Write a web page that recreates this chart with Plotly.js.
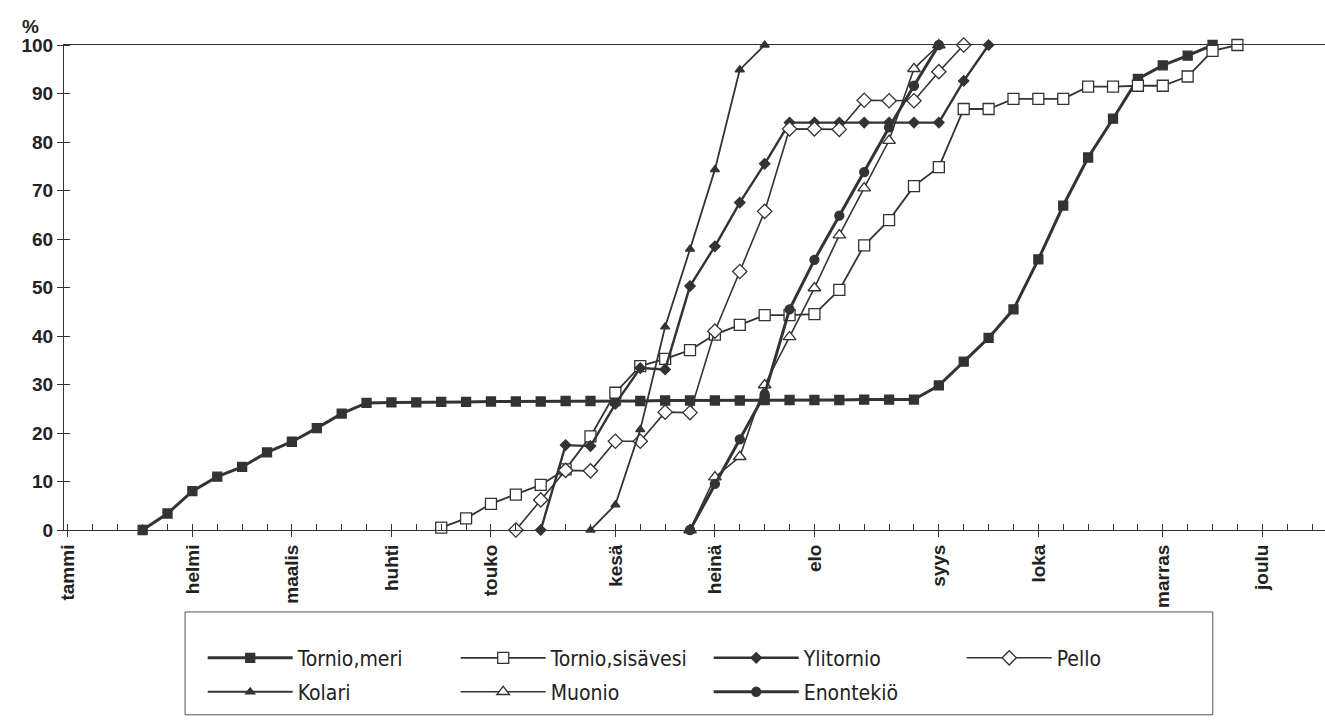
<!DOCTYPE html>
<html>
<head>
<meta charset="utf-8">
<script src="https://cdn.plot.ly/plotly-3.0.1.min.js"></script>
<style>
  html, body { margin: 0; padding: 0; background: #fff; }
  #chart { width: 1325px; height: 721px; }
</style>
</head>
<body>
<div id="chart"></div>
<script>
// ---- data ----
const weekTicks = [0,1,2,3,4,5,6,7,8,9,10,11,12,13,14,15,16,17,18,19,20,21,22,23,24,25,26,27,28,29,30,31,32,33,34,35,36,37,38,39,40,41,42,43,44,45,46,47,48,49,50];
const monthWeeks = [0, 5, 9, 13, 17, 22, 26, 30, 35, 39, 44, 48];
const monthNames = ["tammi", "helmi", "maalis", "huhti", "touko", "kesä", "heinä", "elo", "syys", "loka", "marras", "joulu"];
const yTicks = [0, 10, 20, 30, 40, 50, 60, 70, 80, 90, 100];

const tornioMeriWeeks = [3,4,5,6,7,8,9,10,11,12,13,14,15,16,17,18,19,20,21,22,23,24,25,26,27,28,29,30,31,32,33,34,35,36,37,38,39,40,41,42,43,44,45,46];
const tornioMeriVals  = [0,3.4,8,11,13,16,18.2,21,24,26.2,26.3,26.3,26.4,26.4,26.5,26.5,26.5,26.6,26.6,26.6,26.6,26.7,26.7,26.7,26.7,26.8,26.8,26.8,26.8,26.9,26.9,26.9,29.8,34.7,39.6,45.5,55.8,66.9,76.8,84.8,93,95.8,97.8,100];

const tornioSisWeeks = [15,16,17,18,19,20,21,22,23,24,25,26,27,28,29,30,31,32,33,34,35,36,37,38,39,40,41,42,43,44,45,46,47];
const tornioSisVals  = [0.5,2.4,5.4,7.3,9.3,12.5,19.3,28.3,33.8,35.3,37.1,40.3,42.3,44.3,44.3,44.5,49.5,58.7,63.9,70.9,74.8,86.8,86.8,88.9,88.9,88.9,91.4,91.4,91.6,91.6,93.5,98.8,100];

const ylitornioWeeks = [19,20,21,22,23,24,25,26,27,28,29,30,31,32,33,34,35,36,37];
const ylitornioVals  = [0,17.5,17.3,26,33.4,33.1,50.3,58.5,67.5,75.5,84,84,84,84,84,84,84,92.6,100];

const pelloWeeks = [18,19,20,21,22,23,24,25,26,27,28,29,30,31,32,33,34,35,36];
const pelloVals  = [0,6.2,12.3,12.2,18.3,18.3,24.3,24.2,41,53.3,65.7,82.7,82.7,82.6,88.6,88.5,88.5,94.5,100];

const kolariWeeks = [21,22,23,24,25,26,27,28];
const kolariVals  = [0,5.2,20.7,41.9,57.9,74.3,94.9,100];

const muonioWeeks = [25,26,27,28,29,30,31,32,33,34,35];
const muonioVals  = [0,10.9,15.1,29.9,39.8,49.9,60.8,70.5,80.3,95.1,100];

const enontekioWeeks = [25,26,27,28,29,30,31,32,33,34,35];
const enontekioVals  = [0,9.5,18.7,28,45.5,55.7,64.8,73.8,83,91.6,100];

// ---- styling ----
const INK = '#333333';
const tickText = weekTicks.map(w => {
  const k = monthWeeks.indexOf(w);
  return k >= 0 ? monthNames[k] : '';
});

function series(name, x, y, symbol, msize, lw, fill, legend) {
  return {
    type: 'scatter', mode: 'lines+markers', name: name, x: x, y: y,
    line: { color: INK, width: lw },
    marker: { symbol: symbol, size: msize, color: fill, line: { color: INK, width: 1.3 } },
    cliponaxis: false, legend: legend
  };
}

const data = [
  series('Tornio,meri', tornioMeriWeeks, tornioMeriVals, 'square', 9, 3, INK, 'legend'),
  series('Tornio,sisävesi', tornioSisWeeks, tornioSisVals, 'square', 11, 1.8, '#ffffff', 'legend'),
  series('Ylitornio', ylitornioWeeks, ylitornioVals, 'diamond', 8, 2.4, INK, 'legend'),
  series('Pello', pelloWeeks, pelloVals, 'diamond', 11, 1.6, '#ffffff', 'legend'),
  series('Kolari', kolariWeeks, kolariVals, 'triangle-up', 8, 1.8, INK, 'legend2'),
  series('Muonio', muonioWeeks, muonioVals, 'triangle-up', 11, 1.6, '#ffffff', 'legend2'),
  series('Enontekiö', enontekioWeeks, enontekioVals, 'circle', 9, 3, INK, 'legend2')
];

const xRange = [-0.16, 50.52];
const tickFont = { family: 'Liberation Sans, Arial, sans-serif', size: 19, color: '#222', weight: 700 };
const legFont = { family: 'DejaVu Sans Condensed, Liberation Sans Narrow, Arial Narrow, sans-serif', size: 21, color: '#222' };

const legendBase = {
  orientation: 'h', xanchor: 'left', yanchor: 'top',
  font: legFont, entrywidth: 153, entrywidthmode: 'pixels', itemwidth: 85,
  bgcolor: 'rgba(0,0,0,0)', borderwidth: 0, traceorder: 'normal'
};

const layout = {
  width: 1325, height: 721,
  margin: { l: 64, r: 0, t: 45, b: 191 },
  paper_bgcolor: '#ffffff', plot_bgcolor: 'rgba(0,0,0,0)',
  showlegend: true,
  xaxis: {
    range: xRange, tickmode: 'array', tickvals: weekTicks, ticktext: tickText,
    tickangle: -90, ticks: 'outside', ticklen: 6, tickwidth: 1, tickcolor: INK,
    minor: { tickmode: 'array', tickvals: weekTicks, ticks: 'inside', ticklen: 6, tickwidth: 1, tickcolor: INK, showgrid: false },
    showline: true, linecolor: INK, linewidth: 1, mirror: true,
    showgrid: false, zeroline: false, tickfont: tickFont, fixedrange: true
  },
  yaxis: {
    range: [0, 100], tickmode: 'array', tickvals: yTicks,
    ticks: 'outside', ticklen: 6, tickwidth: 1, tickcolor: INK,
    minor: { tickmode: 'array', tickvals: yTicks, ticks: 'inside', ticklen: 6, tickwidth: 1, tickcolor: INK, showgrid: false },
    showline: true, linecolor: INK, linewidth: 1,
    showgrid: false, zeroline: false, tickfont: tickFont, fixedrange: true
  },
  legend: Object.assign({}, legendBase, { x: 0.110, y: -0.222 }),
  legend2: Object.assign({}, legendBase, { x: 0.110, y: -0.292 }),
  shapes: [{
    type: 'rect', xref: 'paper', yref: 'paper',
    x0: 0.096, x1: 0.911, y0: -0.381, y1: -0.169,
    line: { color: '#555', width: 1 }, fillcolor: 'rgba(0,0,0,0)'
  }],
  annotations: [{
    text: '%', xref: 'paper', yref: 'paper', x: -0.018, y: 1, xanchor: 'right', yanchor: 'bottom',
    yshift: 6, showarrow: false, font: tickFont
  }]
};

Plotly.newPlot('chart', data, layout, { displayModeBar: false, staticPlot: true });
</script>
</body>
</html>
